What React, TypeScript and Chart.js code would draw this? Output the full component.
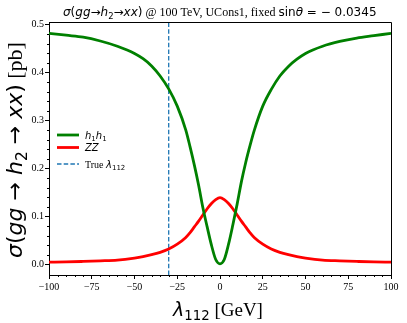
import { useEffect, useRef } from "react";
import { Chart, registerables } from "chart.js";
Chart.register(...registerables);

const lambdaValues = [-100, -90, -80, -70, -60, -50, -45, -40, -35, -30, -25, -20, -17.5, -15, -12.5, -10, -7.5, -5, -2.5, 0, 2.5, 5, 7.5, 10, 12.5, 15, 17.5, 20, 25, 30, 35, 40, 45, 50, 60, 70, 80, 90, 100];
const h1h1Values = [0.482, 0.478, 0.474, 0.466, 0.455, 0.440, 0.429, 0.414, 0.393, 0.366, 0.330, 0.280, 0.245, 0.207, 0.165, 0.118, 0.078, 0.040, 0.010, 0.001, 0.010, 0.042, 0.082, 0.125, 0.172, 0.212, 0.247, 0.279, 0.330, 0.365, 0.393, 0.413, 0.428, 0.440, 0.455, 0.465, 0.472, 0.477, 0.482];
const zzValues = [0.0045, 0.005, 0.006, 0.0072, 0.0088, 0.013, 0.016, 0.020, 0.025, 0.032, 0.042, 0.056, 0.066, 0.078, 0.090, 0.103, 0.116, 0.127, 0.135, 0.139, 0.135, 0.127, 0.116, 0.103, 0.090, 0.078, 0.066, 0.056, 0.042, 0.032, 0.025, 0.020, 0.016, 0.013, 0.0088, 0.0072, 0.006, 0.005, 0.0045];
const trueLambda = -30;
const xTickValues = [-100, -75, -50, -25, 0, 25, 50, 75, 100];
const yTickValues = [0.0, 0.1, 0.2, 0.3, 0.4, 0.5];
const xRange = [-100, 100];
const yRange = [-0.0223, 0.5056];

type Seg = { t: string; f: "mi" | "mr" | "serif"; s?: number; dy?: number };

function fontOf(seg: Seg, size: number) {
  const sz = size * (seg.s ?? 1);
  if (seg.f === "mi") return `italic ${sz}px "DejaVu Sans"`;
  if (seg.f === "mr") return `${sz}px "DejaVu Sans"`;
  return `${sz}px "Liberation Serif"`;
}
function measureRich(ctx: CanvasRenderingContext2D, segs: Seg[], size: number) {
  let w = 0;
  for (const s of segs) {
    ctx.font = fontOf(s, size);
    w += ctx.measureText(s.t).width;
  }
  return w;
}
function drawRich(ctx: CanvasRenderingContext2D, segs: Seg[], size: number, x: number, y: number) {
  let cx = x;
  ctx.textAlign = "left";
  ctx.textBaseline = "alphabetic";
  for (const s of segs) {
    ctx.font = fontOf(s, size);
    ctx.fillText(s.t, cx, y + (s.dy ?? 0) * size);
    cx += ctx.measureText(s.t).width;
  }
}
function fitSize(ctx: CanvasRenderingContext2D, segs: Seg[], target: number) {
  const base = 10;
  return (base * target) / measureRich(ctx, segs, base);
}

const sub = (t: string): Seg => ({ t, f: "mr", s: 0.7, dy: 0.22 });

const titleSegs: Seg[] = [
  { t: "σ", f: "mi" }, { t: "(", f: "mr" }, { t: "gg", f: "mi" }, { t: "→", f: "mr" },
  { t: "h", f: "mi" }, sub("2"), { t: "→", f: "mr" }, { t: "xx", f: "mi" }, { t: ")", f: "mr" },
  { t: " @ 100 TeV, UCons1, fixed ", f: "serif" },
  { t: "sin", f: "mr" }, { t: "θ", f: "mi" }, { t: " = − 0.0345", f: "mr" },
];
const yLabelSegs: Seg[] = [
  { t: "σ", f: "mi" }, { t: "(", f: "mr" }, { t: "gg", f: "mi" }, { t: " → ", f: "mr" },
  { t: "h", f: "mi" }, sub("2"), { t: " → ", f: "mr" }, { t: "xx", f: "mi" }, { t: ")", f: "mr" },
  { t: " [pb]", f: "serif" },
];
const xLabelSegs: Seg[] = [{ t: "λ", f: "mi" }, sub("112"), { t: " [GeV]", f: "serif" }];
const legendItems: { segs: Seg[]; color: string; width: number; dash: number[]; y: number }[] = [
  { segs: [{ t: "h", f: "mi" }, sub("1"), { t: "h", f: "mi" }, sub("1")], color: "#008000", width: 2.8, dash: [], y: 135 },
  { segs: [{ t: "ZZ", f: "mi" }], color: "#ff0000", width: 2.8, dash: [], y: 147.5 },
  { segs: [{ t: "True ", f: "serif" }, { t: "λ", f: "mi" }, sub("112")], color: "#1f77b4", width: 1.3, dash: [4.5, 2.2], y: 164 },
];

const decorPlugin = {
  id: "decor",
  afterDraw(chart: any) {
    const ctx: CanvasRenderingContext2D = chart.ctx;
    const { left, right, top, bottom } = chart.chartArea;
    const xs = chart.scales.x;
    const ys = chart.scales.y;
    ctx.save();
    ctx.strokeStyle = "#000";
    ctx.lineWidth = 1;
    ctx.beginPath();
    ctx.moveTo(left, Math.round(top) + 0.5);
    ctx.lineTo(Math.round(right) + 0.5, Math.round(top) + 0.5);
    ctx.lineTo(Math.round(right) + 0.5, bottom);
    ctx.stroke();
    ctx.beginPath();
    for (let v = xRange[0]; v <= xRange[1]; v += 5) {
      if (v % 25 === 0) continue;
      const px = Math.round(xs.getPixelForValue(v)) + 0.5;
      ctx.moveTo(px, bottom);
      ctx.lineTo(px, bottom + 2);
    }
    for (let i = 0; i <= 25; i++) {
      const v = i * 0.02;
      if (i % 5 === 0) continue;
      const py = Math.round(ys.getPixelForValue(v)) + 0.5;
      ctx.moveTo(left, py);
      ctx.lineTo(left - 2, py);
    }
    ctx.stroke();
    ctx.fillStyle = "#000";
    const ts = fitSize(ctx, titleSegs, 314);
    drawRich(ctx, titleSegs, ts, 63, 16);
    const xsz = fitSize(ctx, xLabelSegs, 90);
    const xw = measureRich(ctx, xLabelSegs, xsz);
    drawRich(ctx, xLabelSegs, xsz, 218 - xw / 2, 316);
    const ysz = fitSize(ctx, yLabelSegs, 216);
    const yw = measureRich(ctx, yLabelSegs, ysz);
    ctx.save();
    ctx.translate(22, 150);
    ctx.rotate(-Math.PI / 2);
    drawRich(ctx, yLabelSegs, ysz, -yw / 2, 0);
    ctx.restore();
    for (const it of legendItems) {
      ctx.save();
      ctx.strokeStyle = it.color;
      ctx.lineWidth = it.width;
      ctx.setLineDash(it.dash);
      ctx.beginPath();
      ctx.moveTo(57, it.y);
      ctx.lineTo(79, it.y);
      ctx.stroke();
      ctx.restore();
      drawRich(ctx, it.segs, 10, 85, it.y + 3.5);
    }
    ctx.restore();
  },
};

export default function App() {
  const ref = useRef<HTMLCanvasElement | null>(null);
  useEffect(() => {
    if (!ref.current) return;
    const chart = new Chart(ref.current, {
      type: "line",
      data: {
        datasets: [
          {
            label: "h1h1",
            data: lambdaValues.map((x, i) => ({ x, y: h1h1Values[i] })),
            borderColor: "#008000",
            borderWidth: 2.8,
            pointRadius: 0,
            cubicInterpolationMode: "monotone",
          },
          {
            label: "ZZ",
            data: lambdaValues.map((x, i) => ({ x, y: zzValues[i] })),
            borderColor: "#ff0000",
            borderWidth: 2.8,
            pointRadius: 0,
            cubicInterpolationMode: "monotone",
          },
          {
            label: "True λ112",
            data: [
              { x: trueLambda, y: yRange[0] },
              { x: trueLambda, y: yRange[1] },
            ],
            borderColor: "#1f77b4",
            borderWidth: 1.3,
            borderDash: [4.5, 2.2],
            pointRadius: 0,
          },
        ],
      },
      options: {
        animation: false,
        responsive: false,
        devicePixelRatio: 1,
        layout: { padding: { left: 0, right: 16, top: 22, bottom: 0 } },
        plugins: { legend: { display: false }, tooltip: { enabled: false }, title: { display: false } },
        scales: {
          x: {
            type: "linear",
            min: xRange[0],
            max: xRange[1],
            afterBuildTicks: (s: any) => { s.ticks = xTickValues.map((value) => ({ value })); },
            afterFit: (s: any) => { s.height = 48; },
            ticks: {
              color: "#000",
              font: { family: "Liberation Serif", size: 10 },
              padding: 2,
              maxRotation: 0,
              autoSkip: false,
              callback: (v: any) => (v < 0 ? "−" + Math.abs(v) : String(v)),
            },
            grid: { drawOnChartArea: false, drawTicks: true, tickLength: 4, tickColor: "#000" },
            border: { display: true, color: "#000", width: 1 },
          },
          y: {
            type: "linear",
            min: yRange[0],
            max: yRange[1],
            afterBuildTicks: (s: any) => { s.ticks = yTickValues.map((value) => ({ value })); },
            afterFit: (s: any) => { s.width = 49; },
            ticks: {
              color: "#000",
              font: { family: "Liberation Serif", size: 10 },
              padding: 1,
              autoSkip: false,
              callback: (v: any) => Number(v).toFixed(1),
            },
            grid: { drawOnChartArea: false, drawTicks: true, tickLength: 4, tickColor: "#000" },
            border: { display: true, color: "#000", width: 1 },
          },
        },
      },
      plugins: [decorPlugin],
    } as any);
    return () => chart.destroy();
  }, []);
  return (
    <div style={{ position: "absolute", left: 0, top: 0, width: 407, height: 323, background: "#fff" }}>
      <canvas ref={ref} width={407} height={323} />
    </div>
  );
}
